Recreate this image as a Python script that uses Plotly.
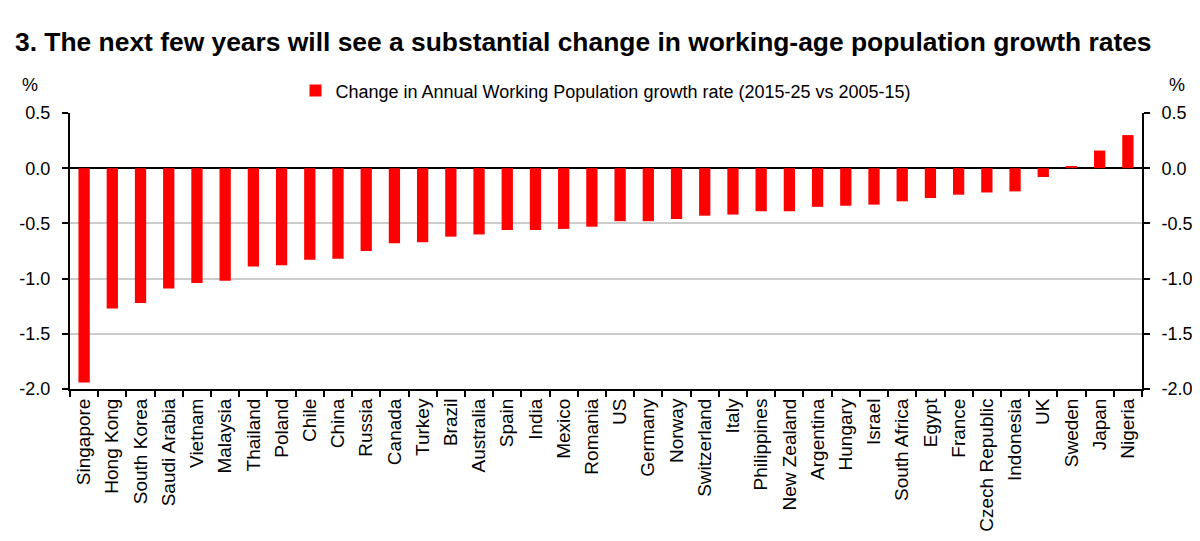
import plotly.graph_objects as go

countries = ["Singapore", "Hong Kong", "South Korea", "Saudi Arabia", "Vietnam", "Malaysia",
             "Thailand", "Poland", "Chile", "China", "Russia", "Canada", "Turkey", "Brazil",
             "Australia", "Spain", "India", "Mexico", "Romania", "US", "Germany", "Norway",
             "Switzerland", "Italy", "Philippines", "New Zealand", "Argentina", "Hungary",
             "Israel", "South Africa", "Egypt", "France", "Czech Republic", "Indonesia", "UK",
             "Sweden", "Japan", "Nigeria"]

values = [-1.94, -1.27, -1.22, -1.09, -1.04, -1.02,
          -0.89, -0.88, -0.83, -0.82, -0.75, -0.68, -0.67, -0.62,
          -0.60, -0.56, -0.56, -0.55, -0.53, -0.48, -0.48, -0.46,
          -0.43, -0.42, -0.39, -0.39, -0.35, -0.34,
          -0.33, -0.30, -0.27, -0.24, -0.22, -0.21, -0.08,
          0.02, 0.16, 0.30]

series_name = "Change in Annual Working Population growth rate (2015-25 vs 2005-15)"
title_text = "3. The next few years will see a substantial change in working-age population growth rates"
y_ticks = [0.5, 0.0, -0.5, -1.0, -1.5, -2.0]
y_ticklabels = ["0.5", "0.0", "-0.5", "-1.0", "-1.5", "-2.0"]

FONT = "Arial, Liberation Sans, sans-serif"
W, H = 1184, 525

fig = go.Figure()
fig.add_trace(go.Bar(x=countries, y=values, name=series_name,
                     marker=dict(color="#ff0000", line=dict(width=0))))
# invisible companion trace so the right-hand axis is drawn
fig.add_trace(go.Scatter(x=countries, y=values, yaxis="y2", mode="lines",
                         line=dict(width=0, color="rgba(0,0,0,0)"),
                         showlegend=False, hoverinfo="skip"))

axis_common = dict(range=[-2.0, 0.5], tickvals=y_ticks, ticktext=y_ticklabels,
                   showline=True, linecolor="black", linewidth=2,
                   ticks="outside", ticklen=6, tickwidth=2, tickcolor="black",
                   ticklabelstandoff=8,
                   tickfont=dict(family=FONT, size=18, color="black"))

fig.update_layout(
    width=W, height=H,
    margin=dict(l=62, r=50, t=105, b=144, autoexpand=False),
    paper_bgcolor="white", plot_bgcolor="white",
    bargap=0.6,
    font=dict(family=FONT, color="black"),
    title=dict(text="<b>" + title_text + "</b>", x=7 / W, xanchor="left",
               xref="container", y=1 - 34 / H, yanchor="middle",
               font=dict(family=FONT, size=26.4, color="black")),
    showlegend=True,
    legend=dict(orientation="h", x=0.5, xanchor="center", y=1.08, yanchor="middle",
                font=dict(family=FONT, size=18, color="black"),
                bgcolor="rgba(0,0,0,0)", itemwidth=30),
    xaxis=dict(showline=True, linecolor="black", linewidth=2, mirror=False,
               range=[-0.5, len(countries) - 0.5],
               ticks="outside", ticklen=6, tickwidth=2, tickcolor="black",
               tickson="boundaries", tickangle=-90,
               tickfont=dict(family=FONT, size=19, color="black"),
               showgrid=False, automargin=False),
    yaxis=dict(**axis_common, showgrid=True, gridcolor="#cccccc", gridwidth=2,
               zeroline=True, zerolinecolor="black", zerolinewidth=2, side="left",
               automargin=False),
    yaxis2=dict(**axis_common, overlaying="y", side="right", anchor="x",
                showgrid=False, zeroline=False, automargin=False),
    annotations=[
        dict(text="%", x=-0.037, y=1.10, xref="paper", yref="paper", showarrow=False,
             xanchor="center", yanchor="middle",
             font=dict(family=FONT, size=18, color="black")),
        dict(text="%", x=1.033, y=1.10, xref="paper", yref="paper", showarrow=False,
             xanchor="center", yanchor="middle",
             font=dict(family=FONT, size=18, color="black")),
    ],
)

fig.write_html("out.html")
